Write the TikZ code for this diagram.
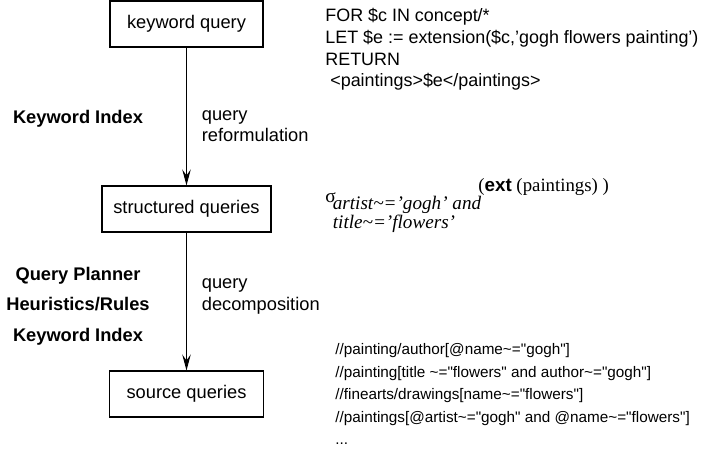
\documentclass[tikz,border=0pt]{standalone}
\usepackage{fontspec}
\setmainfont{Liberation Sans}
\newfontfamily\timesfont{Liberation Serif}[Ligatures=TeX]
\newfontfamily\xpathfont{Liberation Sans}[Ligatures=TeXOff]
\usetikzlibrary{arrows.meta,positioning}

\tikzset{
  qbox/.style={draw, line width=0.6pt, minimum height=0.92cm, inner sep=0pt,
    font=\fontsize{10.4}{12.4}\selectfont},
  flow/.style={line width=0.6pt, -{Stealth[length=0.32cm, width=0.17cm, inset=0.12cm]}},
  steplabel/.style={anchor=west, align=left, inner sep=0pt,
    font=\fontsize{10.4}{12}\selectfont},
  toollabel/.style={align=center, inner sep=0pt,
    font=\bfseries\fontsize{10.4}{17.4}\selectfont},
  codetext/.style={anchor=north west, align=left, inner sep=0pt}
}

\begin{document}
\begin{tikzpicture}
\useasboundingbox (0,0) rectangle (14.2,-9.02);

% the three query stages
\node[qbox, minimum width=3.06cm] (kq) at (3.73,-0.48) {keyword query};
\node[qbox, minimum width=3.38cm] (sq) at (3.73,-4.18) {structured queries};
\node[qbox, minimum width=3.08cm] (srcq) at (3.73,-7.88) {source queries};

\draw[flow] (kq) -- (sq);
\draw[flow] (sq) -- (srcq);

\node[steplabel] (reform) at (4.03,-2.53) {query\\reformulation};
\node[steplabel] (decomp) at (4.03,-5.93) {query\\decomposition};

% what each step uses
\node[toollabel] (kindex) at (1.56,-2.38) {Keyword Index};
\node[toollabel] (planner) at (1.56,-6.12) {Query Planner\\Heuristics/Rules\\Keyword Index};

% example queries
\node[codetext, font=\fontsize{10.2}{12.35}\selectfont] (xquery) at (6.5,-0.16)
  {FOR \$c IN concept/*\\
   LET \$e := extension(\$c,'gogh flowers painting')\\
   RETURN\\
   \ <paintings>\$e</paintings>};

\node[anchor=base west, inner sep=0pt, font=\timesfont\fontsize{11}{13}\selectfont] (sigma) at (6.5,-4.05) {σ};
\node[codetext, font=\timesfont\itshape\fontsize{10.9}{9.4}\selectfont] (cond) at (6.65,-3.92)
  {artist\textasciitilde='gogh' and\\title\textasciitilde='flowers'};
\node[anchor=base west, inner sep=0pt, font=\timesfont\fontsize{10.7}{12}\selectfont] (ext) at (9.56,-3.83)
  {({\normalfont\bfseries ext} (paintings) )};

\node[codetext, font=\xpathfont\fontsize{8.7}{12.86}\selectfont] (xpath) at (6.7,-6.86)
  {//painting/author[@name\textasciitilde="gogh"]\\
   //painting[title \textasciitilde="flowers" and author\textasciitilde="gogh"]\\
   //finearts/drawings[name\textasciitilde="flowers"]\\
   //paintings[@artist\textasciitilde="gogh" and @name\textasciitilde="flowers"]\\
   ...};

\end{tikzpicture}
\end{document}
